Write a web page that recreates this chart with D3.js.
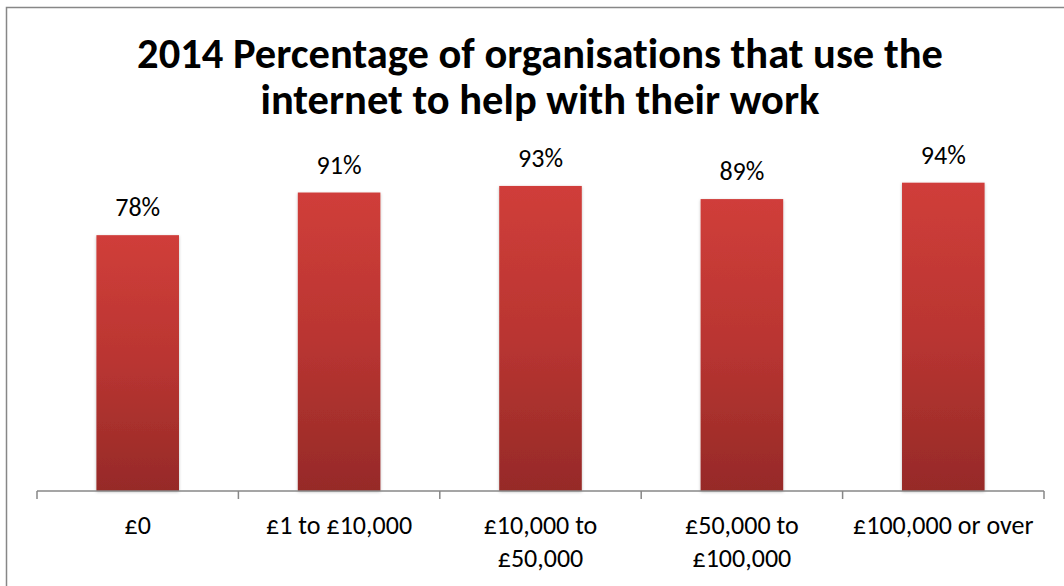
<!DOCTYPE html>
<html>
<head>
<meta charset="utf-8">
<script src="https://cdn.jsdelivr.net/npm/d3@7"></script>
<style>
  html, body { margin: 0; padding: 0; background: #fff; }
  svg { display: block; }
  text, tspan { font-variant-ligatures: none; font-feature-settings: "liga" 0, "clig" 0; letter-spacing: 0.01px; }
</style>
</head>
<body>
<svg id="chart" width="1064" height="586"></svg>
<script>
const categories = [["£0"], ["£1 to £10,000"], ["£10,000 to", "£50,000"], ["£50,000 to", "£100,000"], ["£100,000 or over"]];
const values = [78, 91, 93, 89, 94];
const titleLines = ["2014 Percentage of organisations that use the", "internet to help with their work"];

const W = 1064, H = 586;
const plot = { left: 37, right: 1044, top: 163, bottom: 491 };
const font = "Carlito, 'Liberation Sans', Arial, sans-serif";

const svg = d3.select("#chart");

// frame
svg.append("path")
  .attr("d", `M6.5,${H} V7.5 H${W}`)
  .attr("fill", "none").attr("stroke", "#878787").attr("stroke-width", 1.5);

const defs = svg.append("defs");
const grad = defs.append("linearGradient").attr("id", "barFill")
  .attr("x1", 0).attr("y1", 0).attr("x2", 0).attr("y2", 1);
grad.append("stop").attr("offset", "0%").attr("stop-color", "#d03e3a");
grad.append("stop").attr("offset", "50%").attr("stop-color", "#b93531");
grad.append("stop").attr("offset", "100%").attr("stop-color", "#962a28");

const shadow = defs.append("filter").attr("id", "barShadow")
  .attr("x", "-10%").attr("y", "-10%").attr("width", "120%").attr("height", "120%");
shadow.append("feDropShadow").attr("dx", 0).attr("dy", 1).attr("stdDeviation", 1.5)
  .attr("flood-color", "#000").attr("flood-opacity", 0.25);

const x = d3.scaleBand().domain(d3.range(categories.length))
  .range([plot.left, plot.right]).padding(0);
const y = d3.scaleLinear().domain([0, 100]).range([plot.bottom, plot.top]);
const barW = x.bandwidth() * 0.41;

// title
svg.append("text")
  .attr("x", 540).attr("text-anchor", "middle")
  .attr("font-family", font).attr("font-weight", "bold").attr("font-size", 42.5)
  .attr("fill", "#000")
  .selectAll("tspan").data(titleLines).join("tspan")
  .attr("x", 540).attr("y", (d, i) => 68 + i * 46)
  .text(d => d);

// bars
svg.append("g").selectAll("rect").data(values).join("rect")
  .attr("x", (d, i) => x(i) + x.bandwidth() / 2 - barW / 2)
  .attr("y", d => y(d))
  .attr("width", barW)
  .attr("height", d => y(0) - y(d))
  .attr("fill", "url(#barFill)")
  .attr("filter", "url(#barShadow)");

// value labels
svg.append("g").selectAll("text").data(values).join("text")
  .attr("x", (d, i) => x(i) + x.bandwidth() / 2)
  .attr("y", d => y(d) - 19)
  .attr("text-anchor", "middle")
  .attr("font-family", font).attr("font-size", 26).attr("fill", "#000")
  .text(d => d + "%");

// category axis
const axis = d3.axisBottom(x).tickSize(0).tickFormat("");
const gx = svg.append("g").attr("transform", `translate(0,${plot.bottom})`).call(axis);
gx.select(".domain").attr("stroke", "#878787").attr("stroke-width", 1.5)
  .attr("d", `M${plot.left},0H${plot.right}`);
gx.selectAll(".tick").remove();
const bounds = d3.range(categories.length + 1).map(i => plot.left + i * x.step());
gx.selectAll("line.bound").data(bounds).join("line").attr("class", "bound")
  .attr("x1", d => d).attr("x2", d => d).attr("y1", 0).attr("y2", 8)
  .attr("stroke", "#878787").attr("stroke-width", 1.5);

svg.append("g").selectAll("text").data(categories).join("text")
  .attr("text-anchor", "middle")
  .attr("font-family", font).attr("font-size", 26).attr("fill", "#000")
  .each(function (lines, i) {
    d3.select(this).selectAll("tspan").data(lines).join("tspan")
      .attr("x", x(i) + x.bandwidth() / 2)
      .attr("y", (d, j) => 534 + j * 33)
      .text(d => d);
  });
</script>
</body>
</html>
